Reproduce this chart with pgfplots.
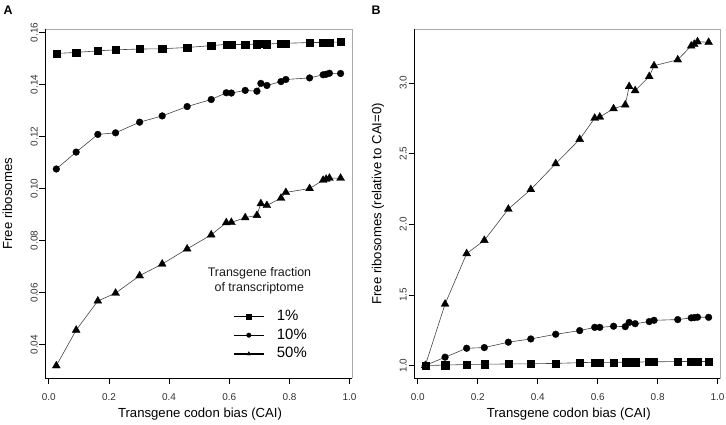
\documentclass[border=0pt]{standalone}
\usepackage{pgfplots}
\pgfplotsset{compat=1.18}
\usepackage{fontspec}
\setmainfont{Liberation Sans}
\definecolor{linec}{HTML}{444444}
\definecolor{boxg}{HTML}{AAAAAA}
\definecolor{tickc}{HTML}{333333}

\pgfplotstableread{
x      sq      ci      tr
0.025  0.1519  0.1075  0.0319
0.091  0.1523  0.1140  0.0456
0.163  0.1529  0.1208  0.0568
0.222  0.1533  0.1214  0.0598
0.302  0.1536  0.1255  0.0665
0.377  0.1537  0.1279  0.0710
0.460  0.1542  0.1315  0.0768
0.540  0.1549  0.1342  0.0822
0.590  0.1554  0.1368  0.0869
0.607  0.1554  0.1367  0.0870
0.653  0.1553  0.1377  0.0888
0.692  0.1555  0.1374  0.0897
0.705  0.1556  0.1404  0.0942
0.725  0.1555  0.1396  0.0935
0.772  0.1558  0.1411  0.0963
0.788  0.1558  0.1419  0.0985
0.867  0.1561  0.1425  0.1000
0.912  0.1561  0.1437  0.1032
0.922  0.1561  0.1439  0.1036
0.933  0.1562  0.1443  0.1040
0.970  0.1563  0.1442  0.1040
}\dataA

\pgfplotstableread{
x      sq     ci     tr
0.025  1.000  1.000  1.000
0.091  1.003  1.059  1.435
0.163  1.007  1.122  1.792
0.222  1.009  1.127  1.886
0.302  1.011  1.165  2.107
0.377  1.012  1.188  2.246
0.460  1.015  1.221  2.429
0.540  1.020  1.247  2.601
0.590  1.023  1.270  2.751
0.607  1.023  1.270  2.759
0.653  1.022  1.278  2.818
0.692  1.024  1.275  2.845
0.705  1.024  1.305  2.975
0.725  1.024  1.296  2.946
0.772  1.026  1.311  3.046
0.788  1.026  1.320  3.122
0.867  1.028  1.325  3.164
0.912  1.028  1.337  3.262
0.922  1.028  1.339  3.274
0.933  1.028  1.342  3.292
0.970  1.029  1.341  3.288
}\dataB

\pgfplotsset{
  rstyle/.style={
    scale only axis,
    clip=false,
    axis line style={draw=none},
    tick align=outside,
    tick pos=left,
    major tick length=5.5bp,
    every tick/.style={black, line width=0.6bp},
    /pgf/number format/assume math mode=true,
    xmin=-0.0126, xmax=1.008,
    xtick={0,0.2,0.4,0.6,0.8,1},
    xticklabel style={font=\fontsize{10}{12}\selectfont, text=tickc, yshift=-6bp,
      /pgf/number format/.cd, fixed, fixed zerofill, precision=1},
    yticklabel style={font=\fontsize{10}{12}\selectfont, text=tickc, rotate=90, anchor=south, inner sep=1.5bp},
    after end axis/.code={
      \draw[boxg, line width=0.9bp] (rel axis cs:0,1) -- (rel axis cs:1,1) -- (rel axis cs:1,0);
      \draw[black, line width=0.6bp] (rel axis cs:0,1) -- (rel axis cs:0,0) -- (rel axis cs:1,0);
    },
  },
  sqs/.style={linec, line width=0.6bp, mark=square*, mark size=3.6bp, mark options={fill=black, draw=black, line width=0.3bp}},
  cis/.style={linec, line width=0.6bp, mark=*, mark size=3.4bp, mark options={fill=black, draw=black, line width=0.3bp}},
  trs/.style={linec, line width=0.6bp, mark=triangle*, mark size=4.6bp, mark options={fill=black, draw=black, line width=0.3bp}},
}

\begin{document}
\begin{tikzpicture}
\useasboundingbox (0,0) rectangle (726bp,425bp);

\begin{axis}[rstyle,
  at={(45bp,46.5bp)}, anchor=south west,
  width=307bp, height=349.5bp,
  ymin=0.0270, ymax=0.1613,
  ytick={0.04,0.06,0.08,0.10,0.12,0.14,0.16},
  yticklabel style={/pgf/number format/.cd, fixed, fixed zerofill, precision=2},
  legend style={at={(0.6124,0.198)}, anchor=north west, draw=none, fill=none,
    inner sep=0pt, row sep=4.7bp, column sep=12.4bp,
    nodes={inner sep=0pt, text height=11bp, text depth=3bp, font=\fontsize{15}{18}\selectfont}},
  legend cell align=left,
  legend image code/.code={
    \draw[#1, line width=1.3bp, draw=black, mark repeat=2, mark phase=2, mark size=2.3bp]
      plot coordinates {(0bp,0bp) (15bp,0bp) (30bp,0bp)};},
]
\addplot[sqs] table[x=x, y=sq] {\dataA};
\addlegendentry{1\%}
\addplot[cis] table[x=x, y=ci] {\dataA};
\addlegendentry{10\%}
\addplot[trs] table[x=x, y=tr] {\dataA};
\addlegendentry{50\%}
\end{axis}

\begin{axis}[rstyle,
  at={(414bp,46.5bp)}, anchor=south west,
  width=306bp, height=349.5bp,
  ymin=0.908, ymax=3.382,
  ytick={1.0,1.5,2.0,2.5,3.0},
  yticklabel style={/pgf/number format/.cd, fixed, fixed zerofill, precision=1},
]
\addplot[sqs] table[x=x, y=sq] {\dataB};
\addplot[cis] table[x=x, y=ci] {\dataB};
\addplot[trs] table[x=x, y=tr] {\dataB};
\end{axis}

\node[font=\fontsize{12.5}{15}\selectfont, text=black!90] at (259.5bp,151.3bp) {Transgene fraction};
\node[font=\fontsize{12.5}{15}\selectfont, text=black!90] at (259.3bp,137bp) {of transcriptome};

\node[font=\fontsize{13.2}{15}\selectfont] at (200bp,11.3bp) {Transgene codon bias (CAI)};
\node[font=\fontsize{13.2}{15}\selectfont] at (568.8bp,11.3bp) {Transgene codon bias (CAI)};
\node[font=\fontsize{13.2}{15}\selectfont, rotate=90] at (7.5bp,221.25bp) {Free ribosomes};
\node[font=\fontsize{13.2}{15}\selectfont, rotate=90] at (378bp,221.25bp) {Free ribosomes (relative to CAI=0)};

\node[font=\fontsize{12.5}{15}\selectfont\bfseries] at (8bp,414.5bp) {A};
\node[font=\fontsize{12.5}{15}\selectfont\bfseries] at (376bp,415bp) {B};
\end{tikzpicture}
\end{document}
